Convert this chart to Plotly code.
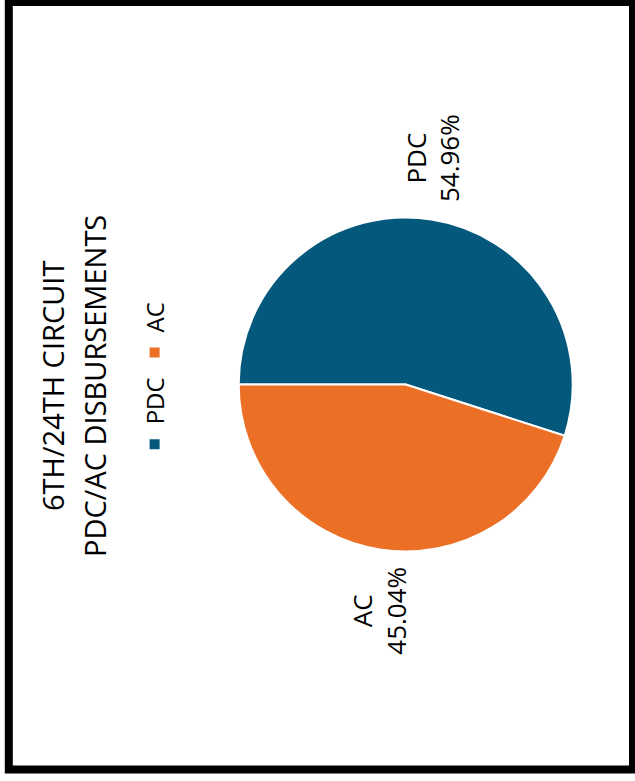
import plotly.graph_objects as go

# Data
labels = ["PDC", "AC"]
values = [54.96, 45.04]
colors = ["#03587c", "#ec6f26"]
title_lines = ["6TH/24TH CIRCUIT", "PDC/AC DISBURSEMENTS"]

# The reference is the chart turned 90 degrees counter-clockwise.
# Build it in its natural (landscape) orientation, then rotate the page div.
W, H = 781, 635

fig = go.Figure(
    go.Pie(
        labels=labels,
        values=values,
        marker=dict(colors=colors, line=dict(color="white", width=2)),
        textposition="outside",
        texttemplate="%{label}<br>%{percent:.2%}",
        textfont=dict(family="Open Sans", size=26, color="#000"),
        sort=False,
        direction="clockwise",
        rotation=0,
        domain=dict(x=[(396.5 - 167) / W, (396.5 + 167) / W],
                    y=[1 - 572.7 / H, 1 - 238.7 / H]),
        hoverinfo="label+percent",
    )
)

title_centers = [53, 95]  # px from top, vertical centre of each title line
annotations = [
    dict(text=t, xref="paper", yref="paper", x=0.506, y=1 - c / H,
         xanchor="center", yanchor="middle", showarrow=False,
         font=dict(family="Open Sans", size=29, color="#000"))
    for t, c in zip(title_lines, title_centers)
]

fig.update_layout(
    width=W,
    height=H,
    margin=dict(l=0, r=0, t=0, b=0),
    paper_bgcolor="white",
    font=dict(family="Open Sans", color="#000"),
    annotations=annotations,
    legend=dict(
        orientation="h",
        x=0.513, xanchor="center",
        y=1 - 155 / H, yanchor="middle",
        font=dict(family="Open Sans", size=24, color="#000"),
    ),
    shapes=[
        dict(type="rect", xref="paper", yref="paper",
             x0=11.5 / W, x1=779 / W, y0=1 - 633 / H, y1=1 - 8.8 / H,
             line=dict(color="black", width=8), fillcolor="rgba(0,0,0,0)")
    ],
)

post = """
var gd = document.getElementById('{plot_id}');
document.documentElement.style.margin = '0';
document.body.style.margin = '0';
document.body.style.overflow = 'hidden';
gd.style.transformOrigin = '0 0';
gd.style.transform = 'translate(0px, 781px) rotate(-90deg)';
"""

fig.write_html("out.html", post_script=post, config={"displayModeBar": False})
